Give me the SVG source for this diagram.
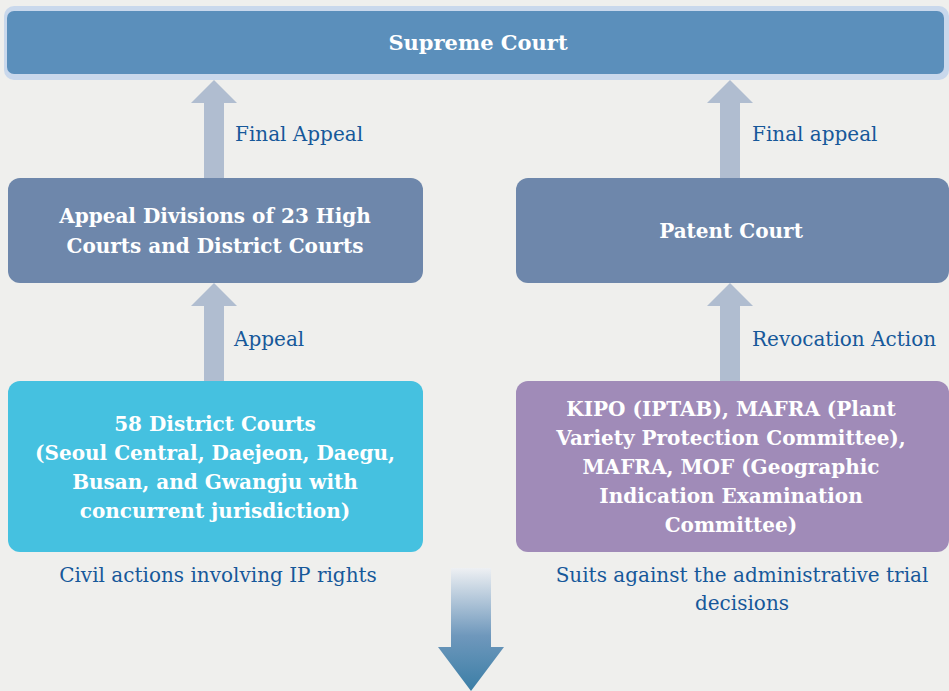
<svg xmlns="http://www.w3.org/2000/svg" width="949" height="691" viewBox="0 0 949 691">
  <style>
    .bold { font-family: "DejaVu Serif", "Liberation Serif", serif; font-weight: bold; fill: #ffffff; text-anchor: middle; }
    .lbl { font-family: "DejaVu Serif", "Liberation Serif", serif; fill: #16589a; font-size: 20px; }
    .mid { text-anchor: middle; }
    .up { fill: #b0bdd0; }
  </style>
  <defs>
    <linearGradient id="downGrad" x1="0" y1="0" x2="0" y2="1">
      <stop offset="0" stop-color="#eef0f3"/>
      <stop offset="0.55" stop-color="#6f98bc"/>
      <stop offset="1" stop-color="#3b7ea6"/>
    </linearGradient>
    <path id="upArrow" d="M-10,0 L-10,-75 L-23,-75 L0,-98 L23,-75 L10,-75 L10,0 Z"/>
  </defs>
  <rect width="949" height="691" fill="#efefed"/>

  <!-- connectors -->
  <g id="connectors">
    <use href="#upArrow" class="up" x="214" y="178"/>
    <use href="#upArrow" class="up" x="730" y="178"/>
    <use href="#upArrow" class="up" x="214" y="381"/>
    <use href="#upArrow" class="up" x="730" y="381"/>
    <path d="M451,568 L491,568 L491,647 L504,647 L471,691 L438,647 L451,647 Z" fill="url(#downGrad)"/>
    <text class="lbl" x="235" y="141">Final Appeal</text>
    <text class="lbl" x="752" y="141">Final appeal</text>
    <text class="lbl" x="234" y="346">Appeal</text>
    <text class="lbl" x="752" y="346">Revocation Action</text>
  </g>

  <g id="supreme-court">
    <rect x="4" y="6" width="945" height="74" rx="10" fill="#c9d8ec"/>
    <rect x="7" y="11" width="937" height="63" rx="7" fill="#5b8fbb"/>
    <text class="bold" x="478" y="50" font-size="21">Supreme Court</text>
  </g>

  <g id="appeal-divisions">
    <rect x="8" y="178" width="415" height="105" rx="12" fill="#6e87ab"/>
    <text class="bold" x="215" y="223" font-size="20">Appeal Divisions of 23 High</text>
    <text class="bold" x="215" y="253" font-size="20">Courts and District Courts</text>
  </g>

  <g id="patent-court">
    <rect x="516" y="178" width="433" height="105" rx="12" fill="#6e87ab"/>
    <text class="bold" x="731" y="238" font-size="20">Patent Court</text>
  </g>

  <g id="district-courts">
    <rect x="8" y="381" width="415" height="171" rx="12" fill="#45c1e0"/>
    <text class="bold" x="215" y="431" font-size="20">58 District Courts</text>
    <text class="bold" x="215" y="460" font-size="20">(Seoul Central, Daejeon, Daegu,</text>
    <text class="bold" x="215" y="489" font-size="20">Busan, and Gwangju with</text>
    <text class="bold" x="215" y="518" font-size="20">concurrent jurisdiction)</text>
    <text class="lbl mid" x="218" y="582">Civil actions involving IP rights</text>
  </g>

  <g id="admin-bodies">
    <rect x="516" y="381" width="433" height="171" rx="12" fill="#a08bb8"/>
    <text class="bold" x="731" y="416" font-size="20">KIPO (IPTAB), MAFRA (Plant</text>
    <text class="bold" x="731" y="445" font-size="20">Variety Protection Committee),</text>
    <text class="bold" x="731" y="474" font-size="20">MAFRA, MOF (Geographic</text>
    <text class="bold" x="731" y="503" font-size="20">Indication Examination</text>
    <text class="bold" x="731" y="532" font-size="20">Committee)</text>
    <text class="lbl mid" x="742" y="582">Suits against the administrative trial</text>
    <text class="lbl mid" x="742" y="610">decisions</text>
  </g>
</svg>
